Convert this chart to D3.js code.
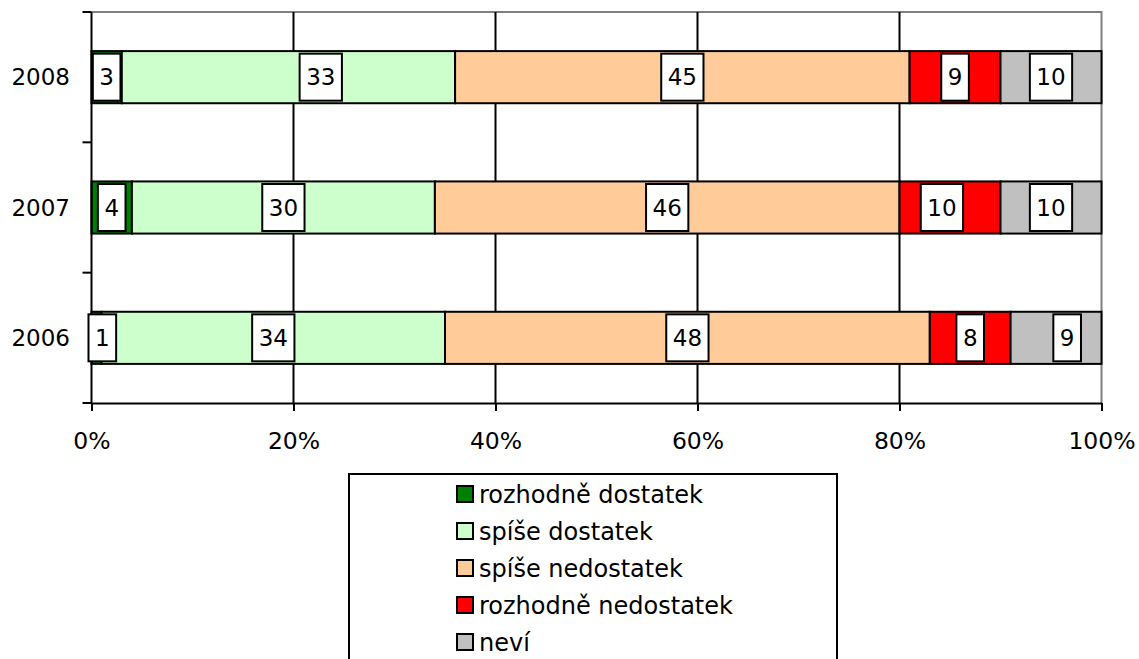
<!DOCTYPE html>
<html>
<head>
<meta charset="utf-8">
<script src="https://cdn.jsdelivr.net/npm/d3@7"></script>
<style>
  body { margin: 0; background: #fff; }
  svg { display: block; font-family: 'DejaVu Sans', Verdana, sans-serif; }
</style>
</head>
<body>
<div id="chart"></div>
<script>
const width = 1139
const height = 659

// categories top to bottom
const years = ['2008', '2007', '2006']
const seriesNames = ['rozhodně dostatek', 'spíše dostatek', 'spíše nedostatek', 'rozhodně nedostatek', 'neví']
const seriesColors = ['#008000', '#CCFFCC', '#FFCC99', '#FF0000', '#C0C0C0']

// values per series, in the order of years
const rozhodneDostatek = [3, 4, 1]
const spiseDostatek = [33, 30, 34]
const spiseNedostatek = [45, 46, 48]
const rozhodneNedostatek = [9, 10, 8]
const nevi = [10, 10, 9]

const xTicks = [0, 20, 40, 60, 80, 100]

const values = [rozhodneDostatek, spiseDostatek, spiseNedostatek, rozhodneNedostatek, nevi]
const rows = years.map((y, i) => {
  const r = { year: y }
  seriesNames.forEach((s, j) => { r[s] = values[j][i] })
  return r
})

// label nudges (in % units) where the original labels sit off-centre
const nudge = { '2008|spíše dostatek': 3.2, '2007|rozhodně nedostatek': -0.8, '2006|neví': 1.1 }

const plot = { left: 91.5, right: 1101.5, top: 12, bottom: 403 }

const svg = d3.select('#chart').append('svg')
  .attr('width', width)
  .attr('height', height)

const x = d3.scaleLinear().domain([0, 100]).range([plot.left, plot.right])
const y = d3.scaleBand().domain(years).range([plot.top, plot.bottom])
  .paddingInner(0.6).paddingOuter(0.3)

// grey plot frame on top and right
svg.append('path')
  .attr('d', `M${plot.left},${plot.top}H${plot.right}V${plot.bottom}`)
  .attr('fill', 'none')
  .attr('stroke', '#808080')
  .attr('stroke-width', 2)

// vertical gridlines
svg.append('g').selectAll('line')
  .data(xTicks.filter(t => t > 0 && t < 100))
  .enter().append('line')
    .attr('x1', d => x(d)).attr('x2', d => x(d))
    .attr('y1', plot.top).attr('y2', plot.bottom)
    .attr('stroke', '#000')
    .attr('stroke-width', 2)

// bars
const stack = d3.stack().keys(seriesNames)(rows)

const layers = svg.append('g').selectAll('g')
  .data(stack)
  .enter().append('g')
    .attr('fill', (d, i) => seriesColors[i])

layers.selectAll('rect')
  .data(d => d)
  .enter().append('rect')
    .attr('x', d => x(d[0]))
    .attr('y', d => y(d.data.year))
    .attr('width', d => x(d[1]) - x(d[0]))
    .attr('height', y.bandwidth())
    .attr('stroke', '#000')
    .attr('stroke-width', 2)

// axes
const xAxis = svg.append('g')
  .attr('transform', `translate(0,${plot.bottom})`)
  .call(d3.axisBottom(x).tickValues(xTicks).tickFormat(d => d + '%').tickSize(8).tickSizeOuter(0))
xAxis.select('.domain').attr('stroke-width', 2)
xAxis.selectAll('.tick line').attr('stroke-width', 2)
xAxis.selectAll('text')
  .attr('font-size', 23.5)
  .attr('font-family', "'DejaVu Sans', Verdana, sans-serif")
  .attr('fill', '#000')
  .attr('dy', '1.5em')

const step = y.step()
const bounds = d3.range(years.length + 1).map(i => plot.top + i * step)

svg.append('line')
  .attr('x1', plot.left).attr('x2', plot.left)
  .attr('y1', plot.top).attr('y2', plot.bottom)
  .attr('stroke', '#000').attr('stroke-width', 2)

svg.append('g').selectAll('line')
  .data(bounds)
  .enter().append('line')
    .attr('x1', plot.left - 9).attr('x2', plot.left)
    .attr('y1', d => d).attr('y2', d => d)
    .attr('stroke', '#000').attr('stroke-width', 2)

svg.append('g').selectAll('text')
  .data(years)
  .enter().append('text')
    .attr('x', 70)
    .attr('y', d => y(d) + y.bandwidth() / 2)
    .attr('dy', '0.36em')
    .attr('text-anchor', 'end')
    .attr('font-size', 23)
    .text(d => d)

// data labels with white boxes
const labels = svg.append('g')
stack.forEach((layer, i) => {
  layer.forEach(d => {
    const key = d.data.year + '|' + layer.key
    const cx = x((d[0] + d[1]) / 2 + (nudge[key] || 0))
    const cy = y(d.data.year) + y.bandwidth() / 2
    const g = labels.append('g')
    const rect = g.append('rect')
    const t = g.append('text')
      .attr('x', cx)
      .attr('y', cy)
      .attr('dy', '0.36em')
      .attr('text-anchor', 'middle')
      .attr('font-size', 23)
      .text(d[1] - d[0])
    const bb = t.node().getBBox()
    const w = bb.width + 13
    let left = cx - w / 2
    if (left < x(d[0]) - 3) left = x(d[0]) - 3
    t.attr('x', left + w / 2)
    rect.attr('x', left)
      .attr('y', cy - 23.5)
      .attr('width', w)
      .attr('height', 47)
      .attr('fill', '#fff')
      .attr('stroke', '#000')
      .attr('stroke-width', 2)
  })
})

// legend
const legend = svg.append('g')
legend.append('rect')
  .attr('x', 349).attr('y', 474)
  .attr('width', 488).attr('height', 220)
  .attr('fill', '#fff')
  .attr('stroke', '#000')
  .attr('stroke-width', 2)

const item = legend.selectAll('g.item')
  .data(seriesNames)
  .enter().append('g')
    .attr('class', 'item')
    .attr('transform', (d, i) => `translate(457,${494 + i * 37})`)

item.append('rect')
  .attr('x', 0).attr('y', -8)
  .attr('width', 16).attr('height', 16)
  .attr('fill', (d, i) => seriesColors[i])
  .attr('stroke', '#000')
  .attr('stroke-width', 2)

item.append('text')
  .attr('x', 22)
  .attr('dy', '0.36em')
  .attr('font-size', 24)
  .text(d => d)
</script>
</body>
</html>
